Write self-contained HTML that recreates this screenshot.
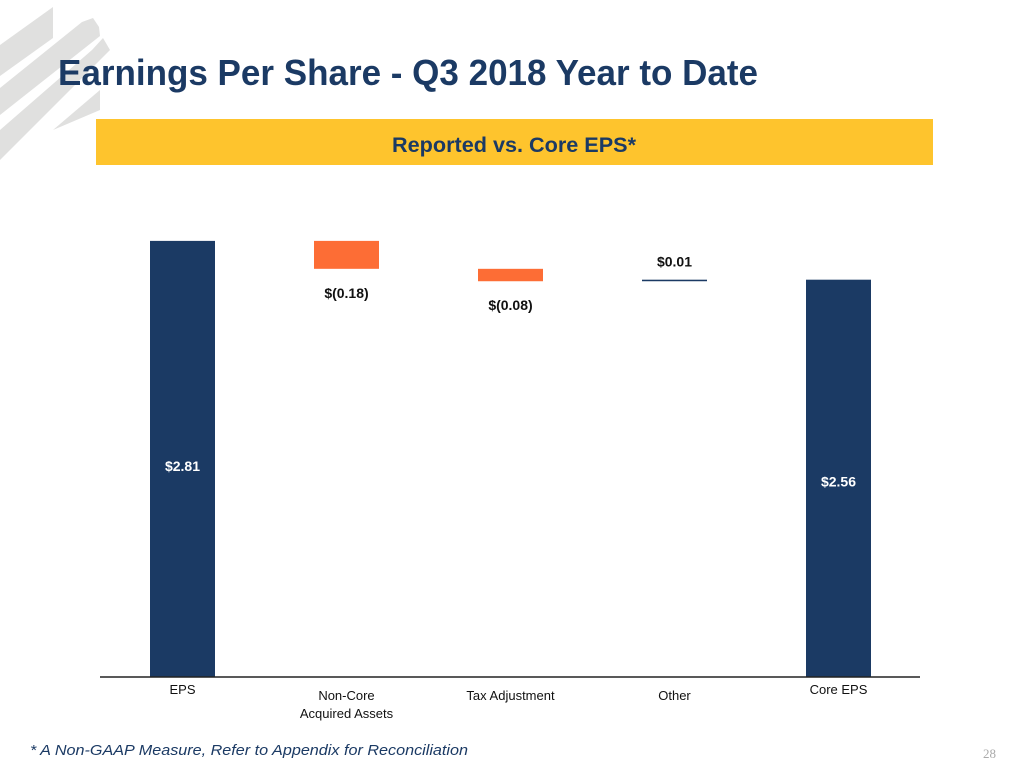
<!DOCTYPE html>
<html><head><meta charset="utf-8">
<style>
body{margin:0;width:1024px;height:768px;background:#fff;overflow:hidden;position:relative;font-family:"Liberation Sans",sans-serif}
.t{position:absolute;white-space:nowrap}
</style></head><body>
<svg width="1024" height="768" style="position:absolute;left:0;top:0">
<g fill="#e0e0df">
<polygon points="0,45 53,7 53,38 0,76"/>
<polygon points="0,88 82,22 93,18 99,27 100,36 0,115"/>
<polygon points="0,130 92,50 103,38 110,50 0,160"/>
<polygon points="53,130 100,90 100,110 53,130"/>
</g>
<text x="58" y="85" font-family="'Liberation Sans Narrow','Liberation Sans',sans-serif" font-weight="bold" font-size="36" fill="#1b3a64" textLength="700" lengthAdjust="spacingAndGlyphs">Earnings Per Share - Q3 2018 Year to Date</text>
<rect x="96" y="119" width="837" height="46" fill="#fec42d"/>
<text x="392" y="152" font-family="'Liberation Sans Narrow','Liberation Sans',sans-serif" font-weight="bold" font-size="21" fill="#1b3a64" textLength="244" lengthAdjust="spacingAndGlyphs">Reported vs. Core EPS*</text>
<g id="bars"></g>
<line x1="100" y1="677" x2="920" y2="677" stroke="#222" stroke-width="1.5"/>
<text x="30" y="755" font-size="15" font-style="italic" fill="#1b3a64" font-family="'Liberation Sans',sans-serif" textLength="438" lengthAdjust="spacingAndGlyphs">* A Non-GAAP Measure,  Refer to Appendix for Reconciliation</text>
</svg>
<div class="t" style="left:983px;top:746px;font-size:13px;color:#aaa;font-family:'Liberation Serif',serif">28</div>
<script>
const categories=["EPS","Non-Core\nAcquired Assets","Tax Adjustment","Other","Core EPS"];
const values=[2.81,-0.18,-0.08,0.01,2.56];
const labels=["$2.81","$(0.18)","$(0.08)","$0.01","$2.56"];
const types=["total","delta","delta","delta","total"];
const NS="http://www.w3.org/2000/svg";
const g=document.getElementById('bars');
const base=677,scale=155.2;
const y=v=>base-v*scale;
const x0=150,step=164,bw=65;
let run=0;
function txt(s,x,yy,size,weight,name,fill){
  const t=document.createElementNS(NS,'text');
  t.setAttribute('x',x);t.setAttribute('y',yy);t.setAttribute('text-anchor','middle');
  t.setAttribute('font-size',size);t.setAttribute('font-weight',weight);t.setAttribute('fill',fill||'#111');
  t.setAttribute('font-family',"'Liberation Sans',sans-serif");
  t.textContent=s;
  
  
  g.appendChild(t);return t;
}
values.forEach((v,i)=>{
  const x=x0+i*step,cx=x+bw/2;
  let lo,hi,color;
  if(types[i]==="total"){lo=0;hi=v;run=v;color="#1b3a64";}
  else{lo=run;hi=run+v;run=hi;color=v<0?"#fd6d35":"#1b3a64";}
  const top=Math.max(lo,hi),bot=Math.min(lo,hi);
  const r=document.createElementNS(NS,'rect');
  r.setAttribute('x',x);r.setAttribute('y',y(top));r.setAttribute('width',bw);
  r.setAttribute('height',Math.max(1.5,y(bot)-y(top)));r.setAttribute('fill',color);
  
  
  g.appendChild(r);
  let ly,fill='#111';
  if(types[i]==="total"){ly=y(top)+(i===0?230:207);fill='#fff';}
  else if(v<0) ly=y(bot)+29;
  else ly=y(top)-13;
  txt(labels[i],cx,ly,14,'bold','value-label-'+i,fill);
  const lines=categories[i].split("\n");
  const cy=(i===0||i===4)?694:700;
  lines.forEach((l,k)=>{txt(l,cx,cy+k*18,13,'normal','category-label-'+i);});
});
</script>
</body></html>
